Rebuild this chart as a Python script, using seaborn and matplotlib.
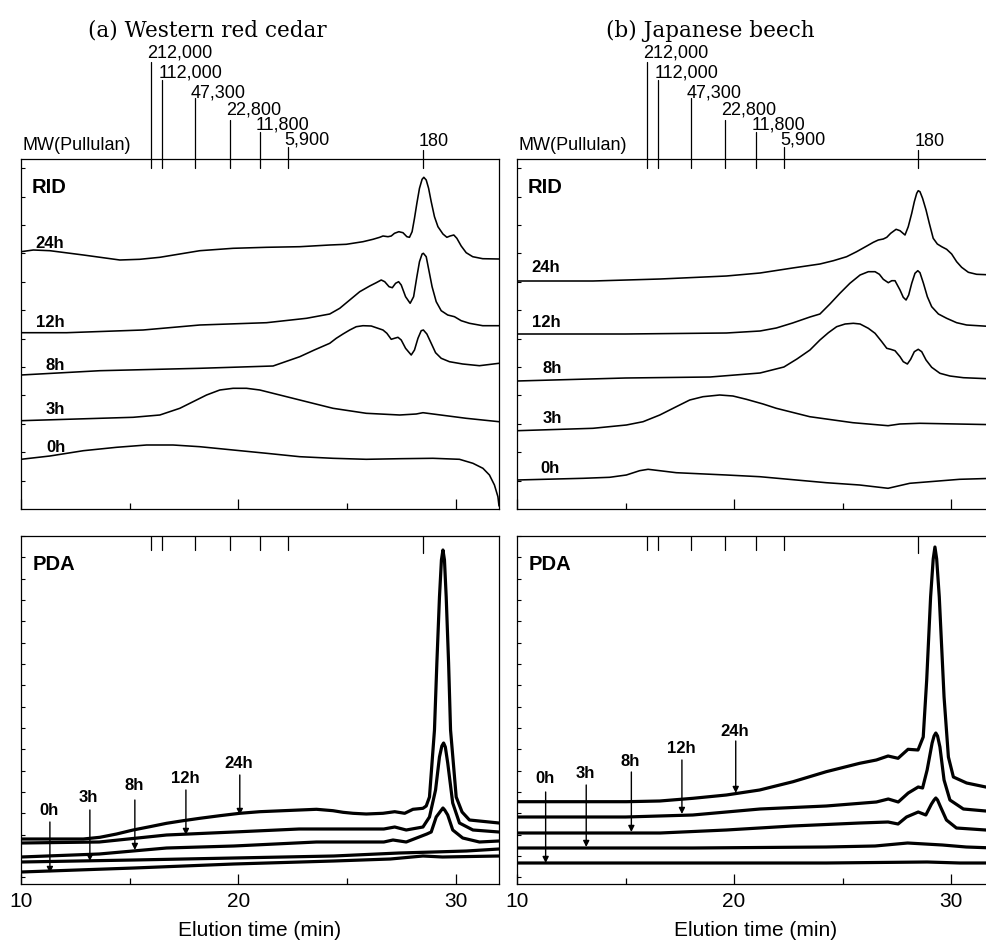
import matplotlib
matplotlib.use("Agg")
import matplotlib.pyplot as plt
from matplotlib.ticker import FixedLocator
import numpy as np
import seaborn as sns

# ---------------- data (elution time in min, detector response in a.u.) ----------------
hours = ["0h", "3h", "8h", "12h", "24h"]

# (a) Western red cedar - RID
a_rid_0h_t = [10.0, 11.33, 12.87, 14.4, 15.78, 17.0, 18.23, 19.76, 21.3, 22.83, 24.36, 25.89, 27.43, 28.96, 30.18, 30.8, 31.26, 31.56, 31.79, 31.95, 32.0]
a_rid_0h = [49.7, 53, 58.3, 61.7, 64, 64, 62.3, 59, 55.7, 52.3, 50.7, 49.7, 50.3, 50.7, 49.7, 45.7, 40.7, 34, 24, 12.3, 3]
a_rid_3h_t = [10.0, 13.63, 15.16, 16.39, 17.31, 17.92, 18.54, 19.15, 19.76, 20.38, 20.99, 21.91, 22.83, 23.75, 24.36, 25.89, 27.43, 28.19, 28.5, 28.96, 30.49, 32.0]
a_rid_3h = [88.3, 90.7, 91.7, 94, 100.7, 107.3, 114, 119, 120.7, 120.7, 119, 114, 109, 104, 100.7, 95.7, 94, 95, 96.3, 95, 90.7, 87.3]
a_rid_8h_t = [10.0, 13.63, 18.23, 21.6, 22.83, 23.5, 24.21, 24.51, 24.82, 25.13, 25.43, 25.74, 26.12, 26.43, 26.66, 26.84, 27.04, 27.19, 27.35, 27.5, 27.7, 27.96, 28.11, 28.27, 28.42, 28.52, 28.68, 28.88, 29.08, 29.34, 29.72, 30.33, 31.1, 32.0]
a_rid_8h = [134, 138.3, 140.7, 143, 152.3, 159, 165.7, 170.7, 175, 179, 182.3, 183.3, 183, 180.7, 179, 175.7, 169.7, 170.7, 171.7, 169, 160.7, 154, 159, 170.7, 178.3, 179, 175, 165.7, 156.3, 150.7, 147.3, 145, 143.3, 145.7]
a_rid_12h_t = [10.0, 12.1, 15.62, 18.23, 21.3, 23.14, 24.21, 24.67, 25.13, 25.59, 26.05, 26.35, 26.58, 26.74, 26.94, 27.09, 27.24, 27.38, 27.5, 27.7, 27.91, 28.07, 28.22, 28.34, 28.46, 28.52, 28.65, 28.77, 28.92, 29.11, 29.34, 29.64, 29.95, 30.26, 30.64, 31.25, 32.0]
a_rid_12h = [176.3, 176.3, 179, 184, 186.3, 190.7, 195, 200.7, 209, 217.3, 223, 226.3, 229, 227.3, 222.3, 221.3, 225.7, 227.3, 224, 212.3, 205.7, 212.3, 232.3, 247.3, 255, 255.7, 252.3, 239, 222.3, 207.3, 198.3, 194, 192.3, 188.3, 185.7, 183.3, 183.3]
a_rid_24h_t = [10.0, 10.57, 11.33, 12.87, 14.55, 15.47, 16.39, 17.31, 18.23, 19.76, 21.3, 22.83, 24.21, 24.97, 25.74, 26.2, 26.51, 26.66, 26.89, 27.04, 27.19, 27.39, 27.58, 27.76, 27.88, 28.0, 28.11, 28.22, 28.34, 28.46, 28.54, 28.65, 28.76, 28.88, 29.03, 29.19, 29.42, 29.6, 29.75, 29.92, 30.06, 30.26, 30.49, 30.79, 31.25, 32.0]
a_rid_24h = [257.3, 259, 258.3, 254, 249, 249.7, 251.7, 255, 258.3, 260.7, 261.7, 262.3, 264, 264.7, 267.3, 269.7, 271.7, 273, 272.3, 273, 275.7, 277.3, 276.3, 272.3, 271.7, 277.3, 290.7, 305.7, 320.7, 329.7, 331.7, 329, 320.7, 307.3, 292.3, 282.3, 275, 271.7, 273, 274, 270.7, 263, 256.3, 252.3, 250.3, 250]

# (b) Japanese beech - RID
b_rid_0h_t = [10.0, 13.06, 14.27, 15.04, 15.65, 16.04, 16.58, 17.34, 19.65, 21.19, 24.25, 25.79, 27.1, 28.1, 30.4, 32.0]
b_rid_0h = [29, 30.7, 31.7, 34, 38.3, 39.7, 38.3, 36.3, 34, 32.3, 26.3, 24, 20.7, 25.7, 29.7, 30.7]
b_rid_3h_t = [10.0, 13.5, 15.04, 15.81, 16.58, 17.34, 17.96, 18.57, 19.34, 19.95, 20.57, 21.34, 21.95, 23.49, 25.48, 26.56, 27.1, 27.64, 28.56, 32.0]
b_rid_3h = [78.3, 80.7, 84, 87.3, 94, 102.3, 109, 112.3, 114, 113, 109.7, 105, 100.7, 92.3, 86.3, 84.3, 83.3, 85, 85.7, 84.3]
b_rid_8h_t = [10.0, 15.0, 18.9, 21.2, 22.3, 22.9, 23.5, 23.96, 24.35, 24.73, 25.12, 25.5, 25.81, 26.19, 26.5, 26.81, 27.04, 27.22, 27.42, 27.65, 27.8, 27.99, 28.14, 28.31, 28.49, 28.65, 28.85, 29.11, 29.49, 29.95, 30.57, 32.0]
b_rid_8h = [128, 131, 132, 136, 142, 150, 159, 169, 176.3, 182.3, 185, 185.7, 185, 180.7, 175.7, 167.3, 160.7, 159.7, 158.3, 152.3, 147.3, 145, 149.7, 157.3, 159.7, 157.3, 149, 141.7, 135.7, 133, 131.3, 130]
b_rid_12h_t = [10.0, 15.0, 19.65, 21.2, 21.95, 22.7, 23.5, 23.96, 24.42, 24.88, 25.34, 25.81, 26.19, 26.5, 26.7, 26.88, 27.11, 27.27, 27.42, 27.65, 27.8, 27.93, 28.05, 28.19, 28.34, 28.47, 28.57, 28.73, 28.91, 29.11, 29.42, 29.8, 30.26, 30.72, 32.0]
b_rid_12h = [175, 175, 176, 178, 181, 186, 192, 195, 205, 215.7, 225.7, 234, 237.3, 237.3, 234.7, 229.7, 226.3, 228.3, 228.3, 219, 211.7, 209, 214, 225.7, 235.7, 238.3, 236.3, 225.7, 212.3, 202.3, 195, 190.7, 186.3, 184, 182.3]
b_rid_24h_t = [10.0, 13.5, 16.6, 19.65, 21.2, 22.7, 23.96, 24.58, 25.19, 25.65, 26.12, 26.42, 26.65, 26.88, 27.04, 27.22, 27.47, 27.65, 27.88, 28.03, 28.19, 28.31, 28.42, 28.49, 28.57, 28.69, 28.85, 29.0, 29.18, 29.37, 29.57, 29.8, 30.03, 30.26, 30.49, 30.8, 31.18, 32.0]
b_rid_24h = [228, 228, 230, 233, 236, 241, 245, 248.3, 252.3, 257.3, 263, 266.7, 269, 270, 271.7, 275.7, 279.7, 278.3, 274, 282.3, 295.7, 307.3, 315.7, 318.3, 317.3, 310.7, 299, 285.7, 270.7, 265, 262.3, 259.7, 255, 247.3, 241.7, 236.7, 234.7, 234]

# (a) Western red cedar - PDA
a_pda_0h_t = [10.0, 15.2, 19.8, 24.4, 27.0, 28.5, 29.4, 32.0]
a_pda_0h = [12, 16, 20, 23, 25, 28, 27, 28]
a_pda_3h_t = [10.0, 15.2, 19.8, 24.4, 27.4, 29.0, 30.5, 32.0]
a_pda_3h = [22, 24, 26, 28, 31, 32, 33, 35]
a_pda_8h_t = [10.0, 13.6, 16.7, 19.8, 23.6, 26.7, 27.12, 27.73, 28.68, 28.88, 29.11, 29.35, 29.42, 29.5, 29.64, 29.87, 30.33, 31.1, 32.0]
a_pda_8h = [27, 30, 36, 38, 42, 42, 44, 42, 50, 52, 67, 74, 76, 74, 69, 54, 46, 42, 43]
a_pda_12h_t = [10.0, 13.6, 16.7, 19.8, 22.8, 24.4, 26.7, 27.2, 27.73, 28.5, 28.8, 29.08, 29.26, 29.37, 29.45, 29.53, 29.64, 29.87, 30.18, 30.8, 32.0]
a_pda_12h = [41, 42, 49, 52, 55, 55, 55, 57, 54, 57, 67, 94, 127, 138, 141, 137, 121, 81, 61, 54, 52]
a_pda_24h_t = [10.0, 12.87, 13.63, 14.4, 15.16, 15.93, 16.7, 17.46, 18.23, 19.15, 20.07, 20.99, 22.06, 23.6, 24.36, 24.82, 25.28, 25.89, 26.66, 27.2, 27.66, 28.04, 28.5, 28.65, 28.8, 29.03, 29.14, 29.26, 29.35, 29.42, 29.49, 29.57, 29.68, 29.77, 30.03, 30.3, 30.64, 32.0]
a_pda_24h = [45, 45, 46.7, 50, 54, 57.3, 60.7, 63.3, 65.7, 68.3, 70.7, 72.3, 73.3, 74.7, 73.3, 71.7, 70.7, 70, 70.7, 72.3, 70.7, 74.7, 75.7, 78, 87, 154, 221, 287, 324, 334, 324, 287, 221, 154, 87, 72, 64, 61]

# (b) Japanese beech - PDA
b_pda_0h_t = [10.0, 24.25, 28.9, 30.4, 32.0]
b_pda_0h = [21, 21, 22, 21, 21]
b_pda_3h_t = [10.0, 18.1, 24.25, 26.5, 28.0, 29.6, 30.7, 32.0]
b_pda_3h = [36, 36, 37, 38, 41, 39, 37, 36]
b_pda_8h_t = [10.0, 16.6, 19.65, 22.7, 25.8, 27.1, 27.56, 27.95, 28.49, 28.84, 29.1, 29.22, 29.3, 29.38, 29.52, 29.79, 30.25, 31.6, 32.0]
b_pda_8h = [51, 51, 54, 58, 61, 62, 60, 67, 72, 69, 80, 84, 86, 84, 77, 64, 56, 54, 54]
b_pda_12h_t = [10.0, 15.0, 18.1, 21.2, 24.25, 26.56, 27.11, 27.57, 28.03, 28.49, 28.69, 28.9, 29.13, 29.22, 29.3, 29.38, 29.49, 29.68, 29.95, 30.57, 31.6, 32.0]
b_pda_12h = [67, 67, 69, 75, 78, 82, 85, 82, 91, 97, 96, 114, 141, 148, 151, 148, 137, 104, 84, 75, 73, 73]
b_pda_24h_t = [10.0, 15.04, 16.58, 18.11, 19.65, 21.18, 22.72, 24.25, 25.79, 26.56, 27.1, 27.56, 28.02, 28.48, 28.72, 28.88, 29.06, 29.18, 29.26, 29.34, 29.46, 29.68, 29.88, 30.11, 30.72, 31.6, 32.0]
b_pda_24h = [82.3, 82.3, 83, 85.7, 89, 94, 102.3, 112.3, 120.7, 124, 128, 125.7, 134.7, 134, 147, 204, 287, 325, 337, 325, 287, 187, 127, 107, 101, 97, 96]

# Pullulan MW standards (elution time, min)
mw_labels = ["212,000", "112,000", "47,300", "22,800", "11,800", "5,900", "180"]
mw_times = [16.0, 16.5, 18.0, 19.6, 21.0, 22.3, 28.5]

# RID curve labels (position of the hour text)
a_rid_lab_t = [11.15, 11.15, 11.15, 10.69, 10.64]
a_rid_lab_h = [57, 95, 139, 182, 261]
b_rid_lab_t = [11.07, 11.17, 11.17, 10.70, 10.66]
b_rid_lab_h = [36, 86, 136, 182, 237]

# PDA arrows (time, head, tail, label baseline)
a_arrow_t = [11.33, 13.17, 15.24, 17.59, 20.07]
a_arrow_head = [11, 23, 34, 49, 69]
a_arrow_tail = [62, 74, 84, 94, 109]
a_arrow_lab = [69, 82, 94, 101, 116]
b_arrow_t = [11.32, 13.19, 15.27, 17.60, 20.08]
b_arrow_head = [21, 37, 52, 70, 91]
b_arrow_tail = [92, 99, 112, 124, 143]
b_arrow_lab = [101, 106, 118, 131, 148]

titles = ["(a) Western red cedar", "(b) Japanese beech"]

# ---------------- figure ----------------
sns.set_theme(style="ticks")
plt.rcParams["font.family"] = ["Liberation Sans", "DejaVu Sans"]
plt.rcParams["axes.linewidth"] = 0.9
for k in ["text.color", "axes.labelcolor", "xtick.color", "ytick.color", "axes.edgecolor"]:
    plt.rcParams[k] = "black"

W, H = 986, 942
fig = plt.figure(figsize=(W / 100, H / 100), dpi=100)


def add_ax(left, top, right, bottom):
    return fig.add_axes([left / W, 1 - bottom / H, (right - left) / W, (bottom - top) / H])


XR = 32.0
ax_a_rid = add_ax(21, 159, 499, 509)
ax_a_pda = add_ax(21, 536, 499, 884)
ax_b_rid = add_ax(517, 159, 517 + 22 * 21.7, 509)
ax_b_pda = add_ax(517, 536, 517 + 22 * 21.7, 884)

rid_data = {
    "a": [(a_rid_0h_t, a_rid_0h), (a_rid_3h_t, a_rid_3h), (a_rid_8h_t, a_rid_8h),
          (a_rid_12h_t, a_rid_12h), (a_rid_24h_t, a_rid_24h)],
    "b": [(b_rid_0h_t, b_rid_0h), (b_rid_3h_t, b_rid_3h), (b_rid_8h_t, b_rid_8h),
          (b_rid_12h_t, b_rid_12h), (b_rid_24h_t, b_rid_24h)],
}
pda_data = {
    "a": [(a_pda_0h_t, a_pda_0h), (a_pda_3h_t, a_pda_3h), (a_pda_8h_t, a_pda_8h),
          (a_pda_12h_t, a_pda_12h), (a_pda_24h_t, a_pda_24h)],
    "b": [(b_pda_0h_t, b_pda_0h), (b_pda_3h_t, b_pda_3h), (b_pda_8h_t, b_pda_8h),
          (b_pda_12h_t, b_pda_12h), (b_pda_24h_t, b_pda_24h)],
}


def style_ax(ax, ymax, yticks, show_xlabels):
    ax.set_xlim(10, XR)
    ax.set_ylim(0, ymax)
    ax.xaxis.set_major_locator(FixedLocator([10, 20, 30]))
    ax.xaxis.set_minor_locator(FixedLocator([15, 25]))
    ax.yaxis.set_major_locator(FixedLocator(yticks))
    ax.yaxis.set_minor_locator(FixedLocator([]))
    ax.tick_params(axis="x", which="major", direction="in", length=7, width=0.9,
                   top=False, bottom=True, labelsize=15, pad=6, colors="black")
    ax.tick_params(axis="x", which="minor", direction="in", length=4, width=0.9,
                   top=False, bottom=True)
    ax.tick_params(axis="y", which="major", direction="in", length=3, width=0.8,
                   left=True, right=False, labelleft=False)
    if not show_xlabels:
        ax.tick_params(axis="x", labelbottom=False)
        ax.set_xlabel("")
    else:
        ax.set_xlabel("Elution time (min)", fontsize=15, labelpad=7, color="black")
    for s in ax.spines.values():
        s.set_color("black")
        s.set_linewidth(0.9)
    ax.set_ylabel("")


for key, ax_r, ax_p, lab_t, lab_h, ar_t, ar_head, ar_tail, ar_lab, title, tx in [
    ("a", ax_a_rid, ax_a_pda, a_rid_lab_t, a_rid_lab_h, a_arrow_t, a_arrow_head, a_arrow_tail, a_arrow_lab, titles[0], 207),
    ("b", ax_b_rid, ax_b_pda, b_rid_lab_t, b_rid_lab_h, b_arrow_t, b_arrow_head, b_arrow_tail, b_arrow_lab, titles[1], 710.5),
]:
    # RID traces
    for (t, h) in rid_data[key]:
        sns.lineplot(x=t, y=h, ax=ax_r, color="black", linewidth=1.15, sort=False,
                     estimator=None, legend=False, solid_joinstyle="round")
    for name, t, h in zip(hours, lab_t, lab_h):
        ax_r.text(t, h, name, fontsize=12, fontweight="bold", ha="left", va="baseline")
    ax_r.text(10.5, 316, "RID", fontsize=14.5, fontweight="bold", ha="left", va="baseline")
    style_ax(ax_r, 350, np.arange(28.4, 350, 28.4), False)

    # MW markers above the RID panel
    tops = [447, 429, 411, 389, 377, 362, 359]
    labs = [452, 432, 412, 395, 380, 365, 363]
    for lab, t, top, lh in zip(mw_labels, mw_times, tops, labs):
        ax_r.plot([t, t], [top, 341], color="black", lw=0.9, clip_on=False)
        ax_r.text(t - 0.18, lh, lab, fontsize=13, ha="left", va="baseline", clip_on=False)
    ax_r.text(10.08, 359, "MW(Pullulan)", fontsize=13, ha="left", va="baseline", clip_on=False)

    # PDA traces
    for (t, h) in pda_data[key]:
        sns.lineplot(x=t, y=h, ax=ax_p, color="black", linewidth=2.3, sort=False,
                     estimator=None, legend=False, solid_joinstyle="round")
    for name, t, hd, tl, lb in zip(hours, ar_t, ar_head, ar_tail, ar_lab):
        ax_p.annotate("", xy=(t, hd), xytext=(t, tl),
                      arrowprops=dict(arrowstyle="-|>", color="black", lw=1.0,
                                      mutation_scale=9, shrinkA=0, shrinkB=0))
        ax_p.text(t - 0.05, lb, name, fontsize=12, fontweight="bold", ha="center", va="baseline")
    ax_p.text(10.55, 314, "PDA", fontsize=14.5, fontweight="bold", ha="left", va="baseline")
    for t in mw_times:
        ax_p.plot([t, t], [348, 331 if t > 28 else 334], color="black", lw=0.9)
    style_ax(ax_p, 348, np.arange(6.7, 348, 21.33), True)

    fig.text(tx / W, 1 - 36.5 / H, title, fontsize=15.5, family="DejaVu Serif",
             ha="center", va="baseline", color="black")

fig.savefig("out.png", dpi=100, facecolor="white")
